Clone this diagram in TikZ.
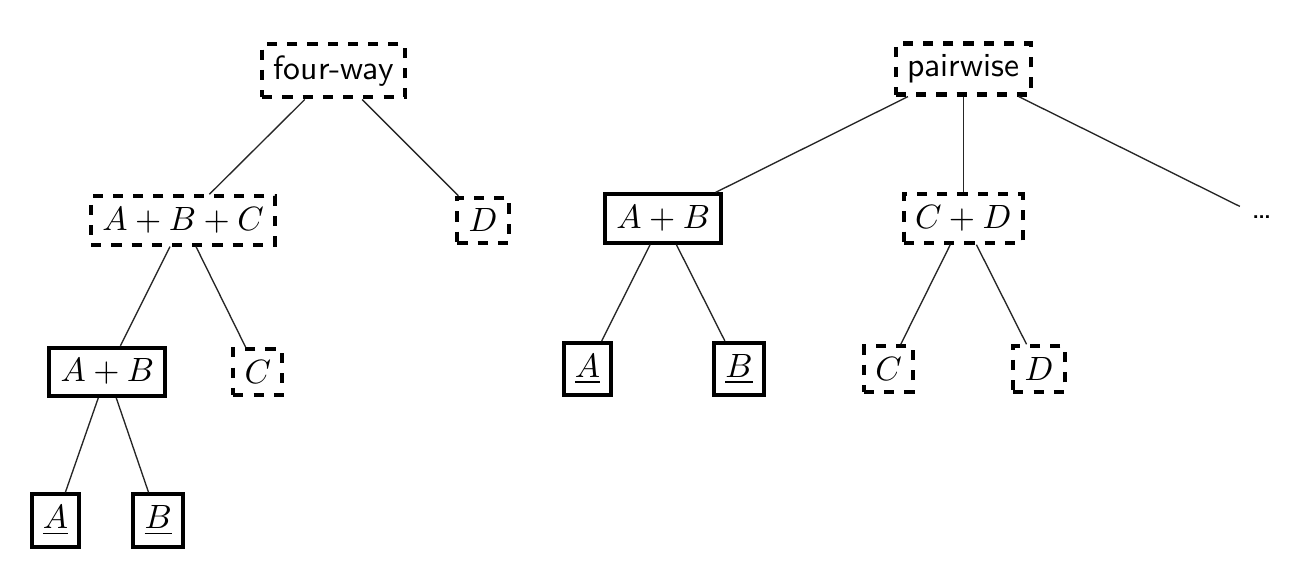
\documentclass[tikz,border=0pt]{standalone}
\usepackage{amsmath,amssymb}
\usepackage{tikz}
\usetikzlibrary{positioning}

\begin{document}
\begin{tikzpicture}[
    solidbox/.style={draw, very thick, inner sep=3.33pt},
    dashbox/.style={draw, very thick, dashed, inner sep=3.33pt},
    link/.style={thin, black!85},
    lab/.style={font=\sffamily}
  ]
    \useasboundingbox (0,0) rectangle (13.48,-6.04);
    % four-way tree
    \node[dashbox, lab] (four) at (3.48,-0.74) {four-way};
    \node[dashbox] (abc) at (1.91,-2.30) {$A+B+C$};
    \node[dashbox] (d1) at (5.04,-2.30) {$D$};
    \node[solidbox] (ab1) at (1.12,-3.88) {$A+B$};
    \node[dashbox] (c1) at (2.69,-3.88) {$C$};
    \node[solidbox] (a1) at (0.58,-5.43) {$\underline{A}$};
    \node[solidbox] (b1) at (1.65,-5.43) {$\underline{B}$};

    % pairwise tree
    \node[dashbox, lab] (pair) at (10.05,-0.72) {pairwise};
    \node[solidbox] (ab2) at (6.92,-2.28) {$A+B$};
    \node[dashbox] (cd2) at (10.05,-2.28) {$C+D$};
    \node[lab] (more) at (13.17,-2.27) {\ldots};
    \node[solidbox] (a2) at (6.13,-3.85) {$\underline{A}$};
    \node[solidbox] (b2) at (7.71,-3.85) {$\underline{B}$};
    \node[dashbox] (c2) at (9.27,-3.85) {$C$};
    \node[dashbox] (d2) at (10.84,-3.85) {$D$};

    \draw[link] (four) -- (abc);
    \draw[link] (four) -- (d1);
    \draw[link] (abc) -- (ab1);
    \draw[link] (abc) -- (c1);
    \draw[link] (ab1) -- (a1);
    \draw[link] (ab1) -- (b1);

    \draw[link] (pair) -- (ab2);
    \draw[link] (pair) -- (cd2);
    \draw[link] (pair) -- (more);
    \draw[link] (ab2) -- (a2);
    \draw[link] (ab2) -- (b2);
    \draw[link] (cd2) -- (c2);
    \draw[link] (cd2) -- (d2);
  \end{tikzpicture}
\end{document}
